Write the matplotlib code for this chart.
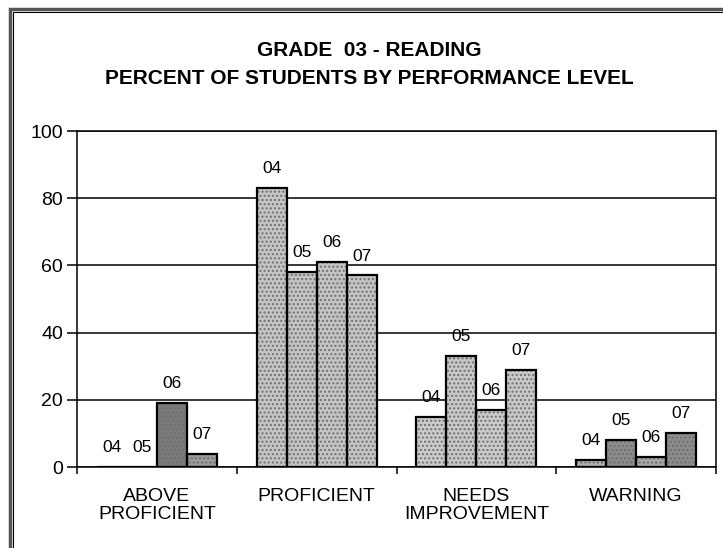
import numpy as np
import matplotlib
matplotlib.use('Agg')
import matplotlib.pyplot as plt
from matplotlib.patches import Rectangle

# Données
categories = ['ABOVE\nPROFICIENT', 'PROFICIENT', 'NEEDS\nIMPROVEMENT', 'WARNING']
years = ['04', '05', '06', '07']
pct_04 = [0, 83, 15, 2]
pct_05 = [0, 58, 33, 8]
pct_06 = [19, 61, 17, 3]
pct_07 = [4, 57, 29, 10]
series = [pct_04, pct_05, pct_06, pct_07]

# Teintes (imitation du tramage scanné)
shades = [
    ['#cfcfcf', '#c4c4c4', '#cbcbcb', '#b0b0b0'],
    ['#cfcfcf', '#c4c4c4', '#c8c8c8', '#8c8c8c'],
    ['#7a7a7a', '#c4c4c4', '#cbcbcb', '#a8a8a8'],
    ['#9a9a9a', '#c4c4c4', '#c8c8c8', '#8c8c8c'],
]

W, H = 723, 548
fig = plt.figure(figsize=(W / 100, H / 100), dpi=100)
ax = fig.add_axes([77 / W, 1 - 467 / H, 639 / W, 336 / H])

x = np.arange(len(categories))
bw = 0.1875
for i, (yr, vals) in enumerate(zip(years, series)):
    pos = x + (i - 1.5) * bw
    for j, (p, v) in enumerate(zip(pos, vals)):
        ax.bar(p, v, width=bw, color=shades[i][j], edgecolor='#707070',
               hatch='....', linewidth=0, zorder=3)
    ax.bar(pos, vals, width=bw, facecolor='none', edgecolor='black',
           linewidth=1.6, zorder=4)
    for p, v in zip(pos, vals):
        ax.annotate(yr, (p, v), xytext=(0, 14), textcoords='offset points',
                    ha='center', va='center', fontsize=12.5,
                    family='Liberation Sans', zorder=5)

ax.set_xlim(-0.5, 3.5)
ax.set_ylim(0, 100)
ax.set_yticks([0, 20, 40, 60, 80, 100])
ax.yaxis.grid(True, color='black', linewidth=1.1, zorder=1)
ax.tick_params(axis='y', length=7, width=1.1, labelsize=14, pad=3)
for lab in ax.get_yticklabels():
    lab.set_family('Liberation Sans')

ax.set_xticks(x)
ax.set_xticklabels(categories, fontsize=14, family='Liberation Sans',
                   linespacing=1.1)
ax.tick_params(axis='x', length=0, pad=15)
ax.set_xticks(np.arange(-0.5, 4, 1), minor=True)
ax.tick_params(axis='x', which='minor', length=5, width=1.1)

for s in ax.spines.values():
    s.set_linewidth(1.1)

# Titre
fig.text(369 / W, 1 - 51 / H, 'GRADE  03 - READING', ha='center', va='center',
         fontsize=15, fontweight='bold', family='Liberation Sans')
fig.text(369 / W, 1 - 79 / H, 'PERCENT OF STUDENTS BY PERFORMANCE LEVEL',
         ha='center', va='center', fontsize=15, fontweight='bold',
         family='Liberation Sans')

# Cadre extérieur
fig.patches.append(Rectangle((10 / W, -0.1), 1.2, 1 - 9 / H + 0.1,
                             transform=fig.transFigure, fill=False,
                             edgecolor='#555555', linewidth=2.5))
fig.patches.append(Rectangle((13 / W, -0.1), 1.2, 1 - 12 / H + 0.1,
                             transform=fig.transFigure, fill=False,
                             edgecolor='black', linewidth=0.8))

fig.savefig('out.png', dpi=100)
